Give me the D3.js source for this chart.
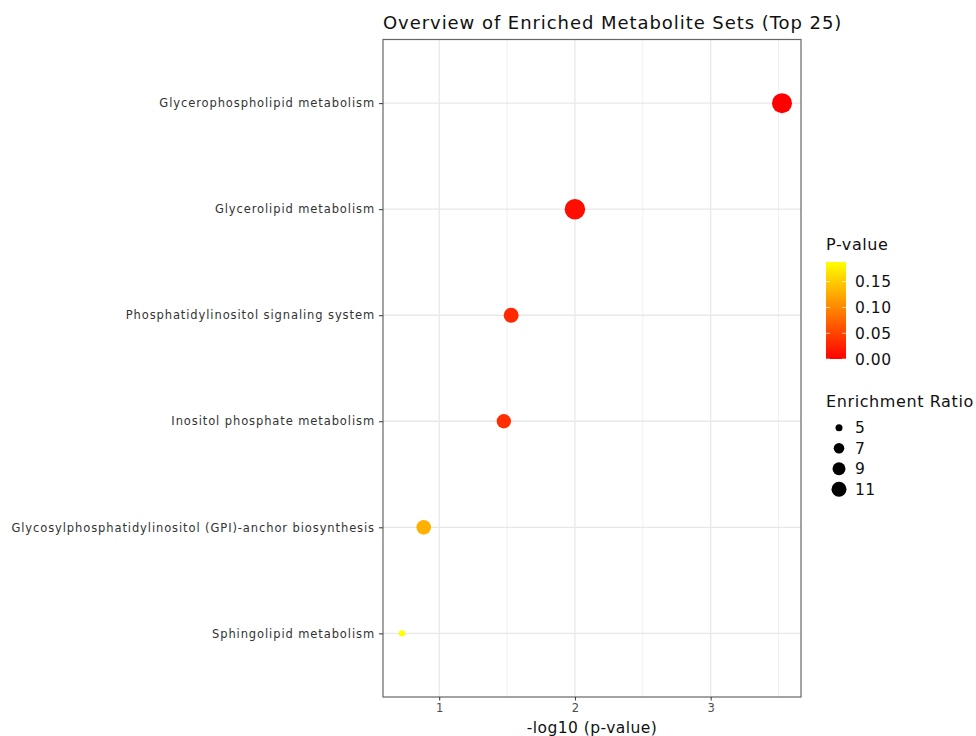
<!DOCTYPE html>
<html>
<head>
<meta charset="utf-8">
<script src="https://cdn.jsdelivr.net/npm/d3@7"></script>
<style>
  html, body { margin: 0; padding: 0; background: #fff; }
  svg { display: block; font-family: "DejaVu Sans", sans-serif; }
</style>
</head>
<body>
<svg id="chart" width="976" height="736"></svg>
<script>
// ---- data ----
const categories = [
  "Glycerophospholipid metabolism",
  "Glycerolipid metabolism",
  "Phosphatidylinositol signaling system",
  "Inositol phosphate metabolism",
  "Glycosylphosphatidylinositol (GPI)-anchor biosynthesis",
  "Sphingolipid metabolism"
];
const pValues = [0.000298, 0.0100, 0.0295, 0.0334, 0.130, 0.188];
const enrichmentRatios = [17.5, 18.3, 11.0, 10.3, 10.6, 4.8];
const xTicks = [1, 2, 3];
const colorTicks = [0.00, 0.05, 0.10, 0.15];
const sizeBreaks = [5, 7, 9, 11];
const titleText = "Overview of Enriched Metabolite Sets (Top 25)";
const xTitle = "-log10 (p-value)";

const data = categories.map((c, i) => ({
  name: c, p: pValues[i], lp: -Math.log10(pValues[i]), er: enrichmentRatios[i]
}));

// ---- layout ----
const panel = { left: 383, right: 801, top: 39.5, bottom: 697 };
const svg = d3.select("#chart");

// x scale with 5% expansion
const xExt = d3.extent(data, d => d.lp);
const xPad = (xExt[1] - xExt[0]) * 0.05;
const x = d3.scaleLinear().domain([xExt[0] - xPad, xExt[1] + xPad]).range([panel.left, panel.right]);
const y = d3.scalePoint().domain(categories).range([panel.top, panel.bottom]).padding(0.6);

const pExt = d3.extent(data, d => d.p);
const color = d3.scaleSequential(d3.interpolateRgb("red", "yellow")).domain(pExt);

// size: radius = a + b*sqrt(v - v0)
const sizeLin = d3.scaleLinear().domain([0, 1]).range([1.07, 1.07 + 2.43]);
const rOf = v => sizeLin(Math.sqrt(Math.max(0, v - 4)));

// ---- panel background & grid ----
const g = svg.append("g");
g.append("rect").attr("x", panel.left).attr("y", panel.top)
  .attr("width", panel.right - panel.left).attr("height", panel.bottom - panel.top)
  .attr("fill", "#fff");

const minor = [];
const dom = x.domain();
for (let v = Math.ceil(dom[0] * 2) / 2; v <= dom[1]; v += 0.5) {
  if (Math.abs(v - Math.round(v)) > 1e-6) minor.push(v);
}
g.selectAll(".minor").data(minor).join("line")
  .attr("x1", d => x(d)).attr("x2", d => x(d))
  .attr("y1", panel.top).attr("y2", panel.bottom)
  .attr("stroke", "#f0f0f0").attr("stroke-width", 1);
g.selectAll(".majx").data(xTicks).join("line")
  .attr("x1", d => x(d)).attr("x2", d => x(d))
  .attr("y1", panel.top).attr("y2", panel.bottom)
  .attr("stroke", "#e8e8e8").attr("stroke-width", 1.3);
g.selectAll(".majy").data(categories).join("line")
  .attr("x1", panel.left).attr("x2", panel.right)
  .attr("y1", d => y(d)).attr("y2", d => y(d))
  .attr("stroke", "#e8e8e8").attr("stroke-width", 1.3);

// ---- points ----
g.selectAll(".pt").data(data).join("circle")
  .attr("cx", d => x(d.lp)).attr("cy", d => y(d.name))
  .attr("r", d => rOf(d.er))
  .attr("fill", d => color(d.p));

// ---- border ----
g.append("rect").attr("x", panel.left).attr("y", panel.top)
  .attr("width", panel.right - panel.left).attr("height", panel.bottom - panel.top)
  .attr("fill", "none").attr("stroke", "#666").attr("stroke-width", 1.2);

// ---- axes ----
const xAxis = svg.append("g").attr("transform", `translate(0,${panel.bottom})`)
  .call(d3.axisBottom(x).tickValues(xTicks).tickFormat(d3.format("d")).tickSize(3.5).tickPadding(3));
xAxis.select(".domain").remove();
xAxis.selectAll("line").attr("stroke", "#333");
xAxis.selectAll("text").attr("font-size", "11.5px").attr("fill", "#4d4d4d")
  .attr("font-family", "DejaVu Sans");

const yAxis = svg.append("g").attr("transform", `translate(${panel.left},0)`)
  .call(d3.axisLeft(y).tickSize(4).tickPadding(4));
yAxis.select(".domain").remove();
yAxis.selectAll("line").attr("stroke", "#333");
yAxis.selectAll("text").attr("font-size", "11.5px").attr("fill", "#333")
  .attr("letter-spacing", "0.9px")
  .attr("font-family", "DejaVu Sans");

// ---- titles ----
svg.append("text").attr("x", panel.left).attr("y", 29)
  .attr("font-size", "18px").attr("letter-spacing", "0.94px").attr("fill", "#111").text(titleText);
svg.append("text").attr("x", (panel.left + panel.right) / 2).attr("y", 733)
  .attr("text-anchor", "middle").attr("font-size", "15.5px").attr("letter-spacing", "0.45px")
  .attr("fill", "#111").text(xTitle);

// ---- colour legend ----
const leg = svg.append("g");
leg.append("text").attr("x", 826).attr("y", 250).attr("font-size", "16px")
  .attr("letter-spacing", "0.6px").attr("fill", "#111").text("P-value");
const cbTop = 262, cbBottom = 359, cbX = 826, cbW = 20;
const cy = d3.scaleLinear().domain(pExt).range([cbBottom, cbTop]);
const defs = svg.append("defs");
const grad = defs.append("linearGradient").attr("id", "pgrad")
  .attr("x1", 0).attr("y1", 1).attr("x2", 0).attr("y2", 0);
d3.range(0, 1.0001, 0.1).forEach(t => {
  grad.append("stop").attr("offset", t)
    .attr("stop-color", color(pExt[0] + t * (pExt[1] - pExt[0])));
});
leg.append("rect").attr("x", cbX).attr("y", cbTop).attr("width", cbW).attr("height", cbBottom - cbTop)
  .attr("fill", "url(#pgrad)");
colorTicks.forEach(t => {
  const yy = cy(Math.max(t, pExt[0]));
  leg.append("line").attr("x1", cbX).attr("x2", cbX + 4).attr("y1", yy).attr("y2", yy)
    .attr("stroke", "#fff").attr("stroke-opacity", 0.6);
  leg.append("line").attr("x1", cbX + cbW - 4).attr("x2", cbX + cbW).attr("y1", yy).attr("y2", yy)
    .attr("stroke", "#fff").attr("stroke-opacity", 0.6);
  leg.append("text").attr("x", 855).attr("y", yy).attr("dy", "0.36em")
    .attr("font-size", "15.5px").attr("letter-spacing", "0.5px").attr("fill", "#111")
    .text(d3.format(".2f")(t));
});

// ---- size legend ----
leg.append("text").attr("x", 826).attr("y", 407).attr("font-size", "16px")
  .attr("letter-spacing", "0.6px").attr("fill", "#111").text("Enrichment Ratio");
let yPos = 417.5;
sizeBreaks.forEach((b, i) => {
  const r = rOf(b);
  const h = Math.max(20.5, 2 * r + 4);
  const cyy = yPos + h / 2;
  leg.append("circle").attr("cx", 839).attr("cy", cyy).attr("r", r).attr("fill", "#000");
  leg.append("text").attr("x", 855).attr("y", cyy).attr("dy", "0.36em")
    .attr("font-size", "15.5px").attr("letter-spacing", "0.5px").attr("fill", "#111").text(b);
  yPos += h;
});
</script>
</body>
</html>
